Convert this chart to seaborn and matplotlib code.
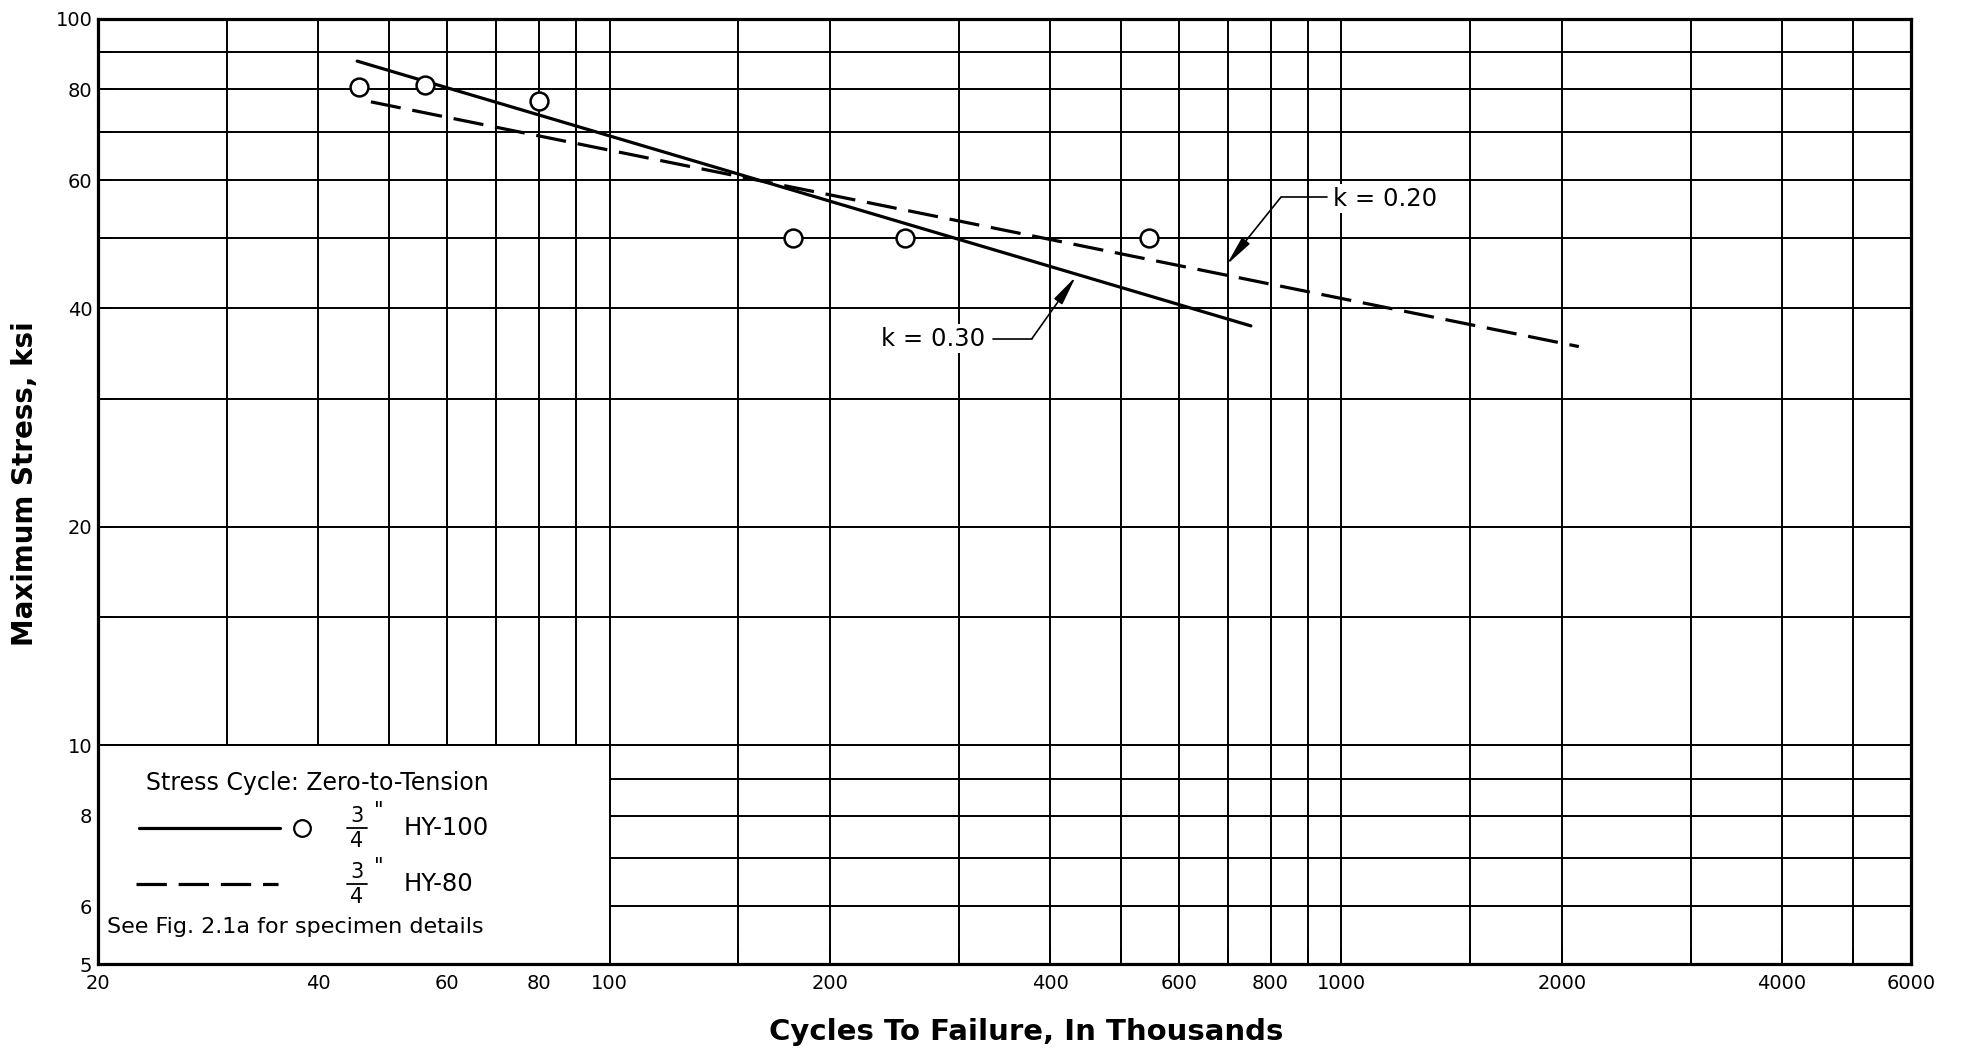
import numpy as np
import pandas as pd
import matplotlib
matplotlib.use("Agg")
import matplotlib.pyplot as plt
import seaborn as sns
from matplotlib.patches import Rectangle
from matplotlib.ticker import NullFormatter, FixedLocator

# ---------------- data ----------------
hy100_cycles = [45.5, 56.0, 80.0, 178.0, 253.0, 546.0]
hy100_stress = [80.7, 81.0, 77.1, 50.0, 50.0, 50.0]

hy100_fit_cycles = [45.2, 752.0]      # k = 0.30
hy100_fit_stress = [87.5, 37.8]
hy80_fit_cycles = [47.2, 2110.0]      # k = 0.20
hy80_fit_stress = [76.9, 35.4]

x_major = [20, 40, 60, 80, 100, 200, 400, 600, 800, 1000, 2000, 4000, 6000]
x_minor = [30, 50, 70, 90, 150, 300, 500, 700, 900, 1500, 3000, 5000]
y_major = [5, 6, 8, 10, 20, 40, 60, 80, 100]
y_minor = [7, 9, 15, 30, 50, 70, 90]

k030_text_pos = (234.9, 36.3)
k030_leader = [(334.0, 36.3), (377.6, 36.3)]
k030_tip = (433.6, 44.2)
k020_text_pos = (975.0, 56.6)
k020_leader = [(826.0, 56.8), (955.0, 56.8)]
k020_tip = (697.0, 45.9)

# ---------------- style ----------------
sns.set_style("white")
plt.rcParams['font.family'] = ['DejaVu Sans']
plt.rcParams['text.color'] = 'black'
plt.rcParams['axes.labelcolor'] = 'black'
plt.rcParams['xtick.color'] = 'black'
plt.rcParams['ytick.color'] = 'black'

fig = plt.figure(figsize=(19.61, 10.51), dpi=100)
ax = fig.add_axes([98 / 1961, 87 / 1051, 1813 / 1961, 945 / 1051])
ax.set_xscale('log')
ax.set_yscale('log')
ax.set_xlim(20, 6000)
ax.set_ylim(5, 100)

GRID_LW = 1.4
# grid lines (manual so the legend panel can cover them while ticks stay visible)
for v in x_major + x_minor:
    if 20 < v < 6000:
        ax.axvline(v, color='k', lw=GRID_LW, zorder=0.6)
for v in y_major + y_minor:
    if 5 < v < 100:
        ax.axhline(v, color='k', lw=GRID_LW, zorder=0.6)

# white legend panel (lower-left cell block)
ax.add_patch(Rectangle((20, 5), 80, 5, facecolor='white', edgecolor='k',
                       lw=GRID_LW, zorder=1))

# ticks
ax.xaxis.set_major_locator(FixedLocator(x_major))
ax.xaxis.set_minor_locator(FixedLocator(x_minor))
ax.yaxis.set_major_locator(FixedLocator(y_major))
ax.yaxis.set_minor_locator(FixedLocator(y_minor))
ax.set_xticklabels([str(v) for v in x_major])
ax.set_yticklabels([str(v) for v in y_major])
ax.xaxis.set_minor_formatter(NullFormatter())
ax.yaxis.set_minor_formatter(NullFormatter())
ax.tick_params(which='both', direction='in', length=11, width=GRID_LW,
               color='k', bottom=True, left=True, top=False, right=False)
ax.tick_params(axis='x', which='major', labelsize=14, pad=7)
ax.tick_params(axis='y', which='major', labelsize=14, pad=4)

for s in ax.spines.values():
    s.set_linewidth(2.3)
    s.set_color('k')
    s.set_zorder(6)

DASH = (0, (9.5, 3.7))
LW = 2.3

# fitted lines
sns.lineplot(x=hy100_fit_cycles, y=hy100_fit_stress, ax=ax, color='k',
             lw=LW, zorder=3)
sns.lineplot(x=hy80_fit_cycles, y=hy80_fit_stress, ax=ax, color='k',
             lw=LW, linestyle=DASH, zorder=3)

# data points
sns.scatterplot(x=hy100_cycles, y=hy100_stress, ax=ax, marker='o', s=165,
                facecolor='white', edgecolor='k', linewidth=1.8, zorder=4)

# annotations
bbox = dict(facecolor='white', edgecolor='none', pad=1.5)
ax.text(*k030_text_pos, "k = 0.30", fontsize=17.5, ha='left', va='center',
        bbox=bbox, zorder=5)
ax.plot([p[0] for p in k030_leader], [p[1] for p in k030_leader], color='k',
        lw=1.2, zorder=5)
ax.annotate('', xy=k030_tip, xytext=k030_leader[1],
            arrowprops=dict(arrowstyle='-|>,head_length=0.9,head_width=0.15',
                            color='k', lw=1.2, shrinkA=0, shrinkB=0,
                            mutation_scale=20), zorder=5)

ax.text(*k020_text_pos, "k = 0.20", fontsize=17.5, ha='left', va='center',
        bbox=bbox, zorder=5)
ax.plot([p[0] for p in k020_leader], [p[1] for p in k020_leader], color='k',
        lw=1.2, zorder=5)
ax.annotate('', xy=k020_tip, xytext=k020_leader[0],
            arrowprops=dict(arrowstyle='-|>,head_length=0.9,head_width=0.15',
                            color='k', lw=1.2, shrinkA=0, shrinkB=0,
                            mutation_scale=20), zorder=5)

# legend panel contents
T = ax.transAxes
ax.text(0.0265, 0.1915, "Stress Cycle: Zero-to-Tension", fontsize=17,
        ha='left', va='center', transform=T, zorder=5)
ax.plot([0.0226, 0.1004], [0.1439, 0.1439], color='k', lw=LW,
        transform=T, zorder=5)
ax.plot([0.1125], [0.1439], marker='o', ms=12, mfc='white', mec='k',
        mew=1.6, transform=T, zorder=5)
ax.plot([0.021, 0.0993], [0.0847, 0.0847], color='k', lw=LW, linestyle=DASH,
        transform=T, zorder=5)
for yc in (0.1439, 0.0847):
    ax.text(0.1429, yc + 0.0125, "3", fontsize=15, ha='center', va='center',
            transform=T, zorder=5)
    ax.text(0.1429, yc - 0.0140, "4", fontsize=15, ha='center', va='center',
            transform=T, zorder=5)
    ax.plot([0.1373, 0.1485], [yc, yc], color='k', lw=1.3, transform=T,
            zorder=5)
    ax.text(0.1525, yc + 0.0175, '"', fontsize=15, ha='left', va='center',
            transform=T, zorder=5)
ax.text(0.1688, 0.1439, "HY-100", fontsize=17.5, ha='left', va='center',
        transform=T, zorder=5)
ax.text(0.1688, 0.0847, "HY-80", fontsize=17.5, ha='left', va='center',
        transform=T, zorder=5)
ax.text(0.005, 0.039, "See Fig. 2.1a for specimen details", fontsize=16,
        ha='left', va='center', transform=T, zorder=5)

# axis labels
ax.set_xlabel("Cycles To Failure, In Thousands", fontsize=21,
              fontweight='bold')
ax.xaxis.label.set_va('center')
ax.xaxis.set_label_coords(0.512, -0.072)
ax.set_ylabel("Maximum Stress, ksi", fontsize=20, fontweight='bold')
ax.yaxis.label.set_va('center')
ax.yaxis.set_label_coords(-0.040, 0.508)

fig.savefig("out.png", dpi=100, facecolor='white')
